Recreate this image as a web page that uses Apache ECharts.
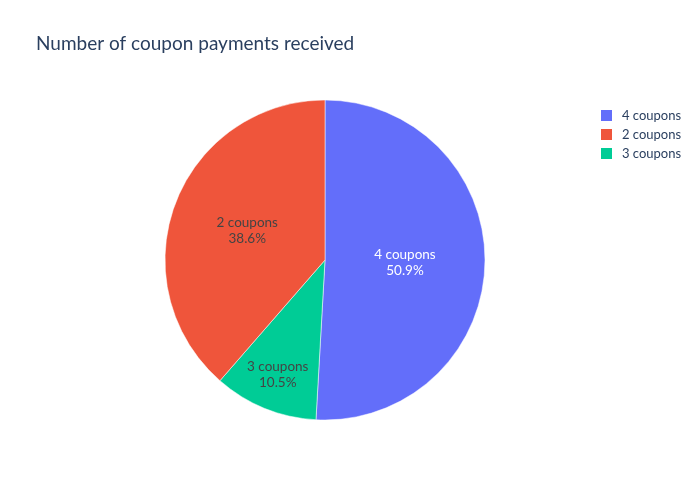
<!DOCTYPE html>
<html>
<head>
<meta charset="utf-8">
<script src="https://cdn.jsdelivr.net/npm/echarts@6/dist/echarts.min.js"></script>
<style>html,body{margin:0;padding:0;background:#fff;}#c{width:700px;height:500px;}</style>
</head>
<body>
<div id="c"></div>
<script>
const title = 'Number of coupon payments received';
// slice order as drawn clockwise from 12 o'clock
const categories = ['4 coupons', '3 coupons', '2 coupons'];
const values = [50.9, 10.5, 38.6];
const colors = ['#636efa', '#00cc96', '#EF553B'];
const labelColors = ['#ffffff', '#444444', '#444444'];
const legendOrder = ['4 coupons', '2 coupons', '3 coupons'];

const FONT = 'Lato, "Noto Sans", sans-serif';
const chart = echarts.init(document.getElementById('c'));
chart.setOption({
  animation: false,
  title: {
    text: title, left: 31, top: 29,
    textStyle: { fontFamily: FONT, fontSize: 19, fontWeight: 'normal', color: '#2a3f5f' }
  },
  legend: {
    data: legendOrder, orient: 'vertical', left: 594, top: 103,
    itemWidth: 13, itemHeight: 13, itemGap: 4, icon: 'rect',
    textStyle: { fontFamily: FONT, fontSize: 13, color: '#2a3f5f', padding: [0, 0, 0, 4] }
  },
  series: [{
    type: 'pie',
    center: [325, 260],
    radius: 160,
    startAngle: 90,
    clockwise: true,
    avoidLabelOverlap: false,
    itemStyle: { borderColor: '#ffffff', borderWidth: 0.5 },
    label: {
      position: 'inside',
      formatter: p => p.name + '\n' + p.value.toFixed(1) + '%',
      fontFamily: FONT, fontSize: 13.5, lineHeight: 16
    },
    labelLayout: function (p) {
      if (p.dataIndex === 1) return { dx: -16, dy: 38 };
      if (p.dataIndex === 0) return { dx: -3, dy: 0 };
      return {};
    },
    data: categories.map((n, i) => ({
      name: n, value: values[i],
      itemStyle: { color: colors[i] },
      label: { color: labelColors[i] }
    }))
  }]
});
</script>
</body>
</html>
